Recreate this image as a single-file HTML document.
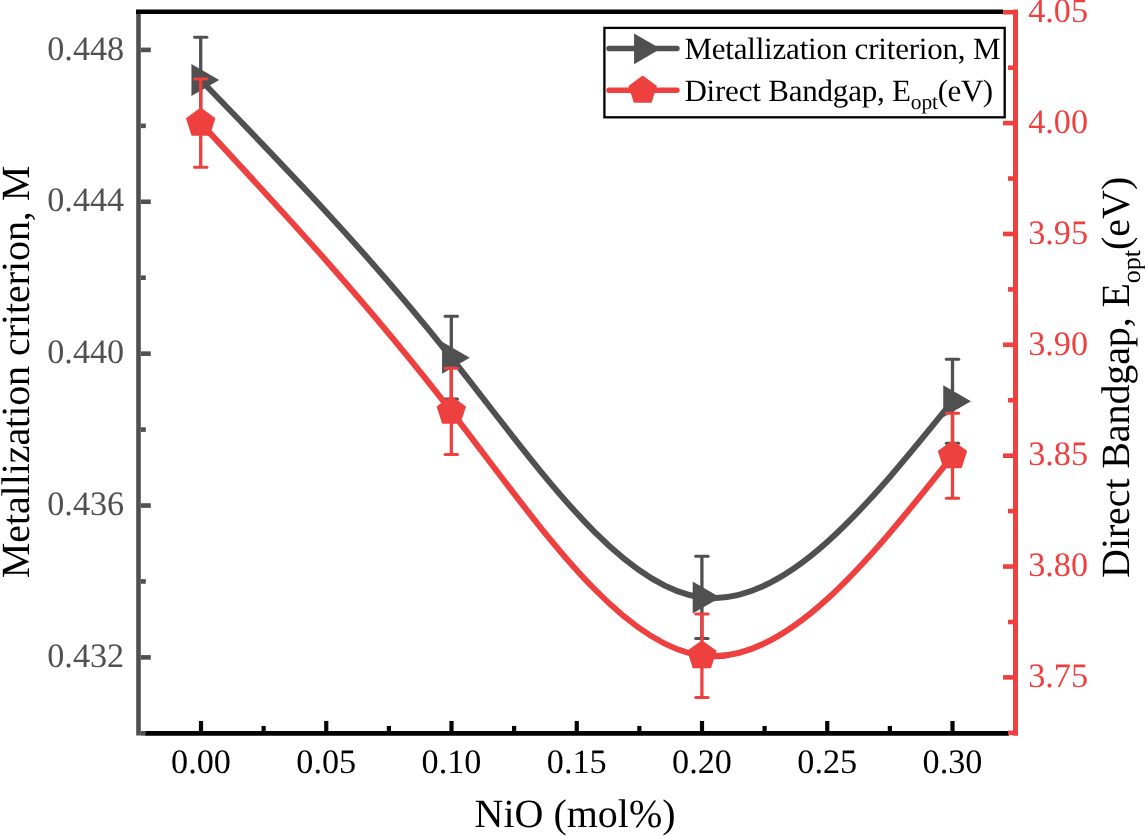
<!DOCTYPE html>
<html><head><meta charset="utf-8"><style>
html,body{margin:0;padding:0;background:#fff;width:1145px;height:836px;overflow:hidden}
svg{display:block;will-change:transform}
text{font-family:"Liberation Serif",serif;text-rendering:geometricPrecision}
.tk{font-size:34.2px}
.ti{font-size:40px;fill:#000}
.lg{font-size:31px;letter-spacing:-0.2px;fill:#000}
</style></head><body>
<svg width="1145" height="836" viewBox="0 0 1145 836">
<rect width="1145" height="836" fill="#fff"/>
<path d="M200.70,80.00 C284.23,166.22 367.77,252.45 451.30,357.65 C534.83,462.85 618.37,587.03 701.90,597.45 C785.43,607.87 868.97,504.54 952.50,401.20" fill="none" stroke="#505050" stroke-width="6"/>
<line x1="200.70" y1="37.30" x2="200.70" y2="122.70" stroke="#505050" stroke-width="3.3"/><line x1="194.50" y1="37.30" x2="206.90" y2="37.30" stroke="#505050" stroke-width="3" stroke-linecap="round"/><line x1="194.50" y1="122.70" x2="206.90" y2="122.70" stroke="#505050" stroke-width="3" stroke-linecap="round"/>
<line x1="451.30" y1="316.20" x2="451.30" y2="399.10" stroke="#505050" stroke-width="3.3"/><line x1="445.10" y1="316.20" x2="457.50" y2="316.20" stroke="#505050" stroke-width="3" stroke-linecap="round"/><line x1="445.10" y1="399.10" x2="457.50" y2="399.10" stroke="#505050" stroke-width="3" stroke-linecap="round"/>
<line x1="701.90" y1="556.30" x2="701.90" y2="638.60" stroke="#505050" stroke-width="3.3"/><line x1="695.70" y1="556.30" x2="708.10" y2="556.30" stroke="#505050" stroke-width="3" stroke-linecap="round"/><line x1="695.70" y1="638.60" x2="708.10" y2="638.60" stroke="#505050" stroke-width="3" stroke-linecap="round"/>
<line x1="952.50" y1="359.20" x2="952.50" y2="443.20" stroke="#505050" stroke-width="3.3"/><line x1="946.30" y1="359.20" x2="958.70" y2="359.20" stroke="#505050" stroke-width="3" stroke-linecap="round"/><line x1="946.30" y1="443.20" x2="958.70" y2="443.20" stroke="#505050" stroke-width="3" stroke-linecap="round"/>
<polygon points="191.46,64.00 219.18,80.00 191.46,96.00" fill="#505050"/>
<polygon points="442.06,341.65 469.78,357.65 442.06,373.65" fill="#505050"/>
<polygon points="692.66,581.45 720.38,597.45 692.66,613.45" fill="#505050"/>
<polygon points="943.26,385.20 970.98,401.20 943.26,417.20" fill="#505050"/>
<path d="M200.70,123.10 C284.23,213.19 367.77,303.29 451.30,411.30 C534.83,519.31 618.37,645.25 701.90,655.65 C785.43,666.05 868.97,560.93 952.50,455.80" fill="none" stroke="#ef4040" stroke-width="6"/>
<line x1="200.70" y1="79.00" x2="200.70" y2="167.20" stroke="#ef4040" stroke-width="3.3"/><line x1="194.50" y1="79.00" x2="206.90" y2="79.00" stroke="#ef4040" stroke-width="3" stroke-linecap="round"/><line x1="194.50" y1="167.20" x2="206.90" y2="167.20" stroke="#ef4040" stroke-width="3" stroke-linecap="round"/>
<line x1="451.30" y1="368.20" x2="451.30" y2="454.40" stroke="#ef4040" stroke-width="3.3"/><line x1="445.10" y1="368.20" x2="457.50" y2="368.20" stroke="#ef4040" stroke-width="3" stroke-linecap="round"/><line x1="445.10" y1="454.40" x2="457.50" y2="454.40" stroke="#ef4040" stroke-width="3" stroke-linecap="round"/>
<line x1="701.90" y1="613.90" x2="701.90" y2="697.40" stroke="#ef4040" stroke-width="3.3"/><line x1="695.70" y1="613.90" x2="708.10" y2="613.90" stroke="#ef4040" stroke-width="3" stroke-linecap="round"/><line x1="695.70" y1="697.40" x2="708.10" y2="697.40" stroke="#ef4040" stroke-width="3" stroke-linecap="round"/>
<line x1="952.50" y1="413.30" x2="952.50" y2="498.30" stroke="#ef4040" stroke-width="3.3"/><line x1="946.30" y1="413.30" x2="958.70" y2="413.30" stroke="#ef4040" stroke-width="3" stroke-linecap="round"/><line x1="946.30" y1="498.30" x2="958.70" y2="498.30" stroke="#ef4040" stroke-width="3" stroke-linecap="round"/>
<polygon points="200.70,107.60 215.44,118.31 209.81,135.64 191.59,135.64 185.96,118.31" fill="#ef4040"/>
<polygon points="451.30,395.80 466.04,406.51 460.41,423.84 442.19,423.84 436.56,406.51" fill="#ef4040"/>
<polygon points="701.90,640.15 716.64,650.86 711.01,668.19 692.79,668.19 687.16,650.86" fill="#ef4040"/>
<polygon points="952.50,440.30 967.24,451.01 961.61,468.34 943.39,468.34 937.76,451.01" fill="#ef4040"/>
<line x1="138.5" y1="11.7" x2="138.5" y2="735.5999999999999" stroke="#505050" stroke-width="4.6"/>
<line x1="1015.5" y1="9.399999999999999" x2="1015.5" y2="735.8" stroke="#ef4040" stroke-width="5"/>
<line x1="136.0" y1="11.7" x2="1003" y2="11.7" stroke="#000" stroke-width="4.6"/>
<line x1="145" y1="733.3" x2="1009" y2="733.3" stroke="#000" stroke-width="4.7"/>
<line x1="140.80" y1="733.34" x2="145.80" y2="733.34" stroke="#505050" stroke-width="4.6"/>
<line x1="140.80" y1="657.40" x2="150.80" y2="657.40" stroke="#505050" stroke-width="4.6"/>
<line x1="140.80" y1="581.46" x2="145.80" y2="581.46" stroke="#505050" stroke-width="4.6"/>
<line x1="140.80" y1="505.52" x2="150.80" y2="505.52" stroke="#505050" stroke-width="4.6"/>
<line x1="140.80" y1="429.59" x2="145.80" y2="429.59" stroke="#505050" stroke-width="4.6"/>
<line x1="140.80" y1="353.65" x2="150.80" y2="353.65" stroke="#505050" stroke-width="4.6"/>
<line x1="140.80" y1="277.71" x2="145.80" y2="277.71" stroke="#505050" stroke-width="4.6"/>
<line x1="140.80" y1="201.77" x2="150.80" y2="201.77" stroke="#505050" stroke-width="4.6"/>
<line x1="140.80" y1="125.84" x2="145.80" y2="125.84" stroke="#505050" stroke-width="4.6"/>
<line x1="140.80" y1="49.90" x2="150.80" y2="49.90" stroke="#505050" stroke-width="4.6"/>
<text x="124.2" y="667.10" text-anchor="end" fill="#505050" class="tk">0.432</text>
<text x="124.2" y="515.22" text-anchor="end" fill="#505050" class="tk">0.436</text>
<text x="124.2" y="363.35" text-anchor="end" fill="#505050" class="tk">0.440</text>
<text x="124.2" y="211.47" text-anchor="end" fill="#505050" class="tk">0.444</text>
<text x="124.2" y="59.60" text-anchor="end" fill="#505050" class="tk">0.448</text>
<line x1="1013.00" y1="732.83" x2="1008.00" y2="732.83" stroke="#ef4040" stroke-width="4.6"/>
<line x1="1013.00" y1="677.40" x2="1003.00" y2="677.40" stroke="#ef4040" stroke-width="4.6"/>
<line x1="1013.00" y1="621.97" x2="1008.00" y2="621.97" stroke="#ef4040" stroke-width="4.6"/>
<line x1="1013.00" y1="566.54" x2="1003.00" y2="566.54" stroke="#ef4040" stroke-width="4.6"/>
<line x1="1013.00" y1="511.11" x2="1008.00" y2="511.11" stroke="#ef4040" stroke-width="4.6"/>
<line x1="1013.00" y1="455.68" x2="1003.00" y2="455.68" stroke="#ef4040" stroke-width="4.6"/>
<line x1="1013.00" y1="400.25" x2="1008.00" y2="400.25" stroke="#ef4040" stroke-width="4.6"/>
<line x1="1013.00" y1="344.82" x2="1003.00" y2="344.82" stroke="#ef4040" stroke-width="4.6"/>
<line x1="1013.00" y1="289.39" x2="1008.00" y2="289.39" stroke="#ef4040" stroke-width="4.6"/>
<line x1="1013.00" y1="233.96" x2="1003.00" y2="233.96" stroke="#ef4040" stroke-width="4.6"/>
<line x1="1013.00" y1="178.53" x2="1008.00" y2="178.53" stroke="#ef4040" stroke-width="4.6"/>
<line x1="1013.00" y1="123.10" x2="1003.00" y2="123.10" stroke="#ef4040" stroke-width="4.6"/>
<line x1="1013.00" y1="67.67" x2="1008.00" y2="67.67" stroke="#ef4040" stroke-width="4.6"/>
<line x1="1013.00" y1="12.24" x2="1003.00" y2="12.24" stroke="#ef4040" stroke-width="4.6"/>
<text x="1028.2" y="22.04" fill="#ef4040" class="tk">4.05</text>
<text x="1028.2" y="132.90" fill="#ef4040" class="tk">4.00</text>
<text x="1028.2" y="243.76" fill="#ef4040" class="tk">3.95</text>
<text x="1028.2" y="354.62" fill="#ef4040" class="tk">3.90</text>
<text x="1028.2" y="465.48" fill="#ef4040" class="tk">3.85</text>
<text x="1028.2" y="576.34" fill="#ef4040" class="tk">3.80</text>
<text x="1028.2" y="687.20" fill="#ef4040" class="tk">3.75</text>
<line x1="201.00" y1="730.95" x2="201.00" y2="720.95" stroke="#000" stroke-width="4.2"/>
<line x1="263.62" y1="730.95" x2="263.62" y2="725.95" stroke="#000" stroke-width="4.2"/>
<line x1="326.25" y1="730.95" x2="326.25" y2="720.95" stroke="#000" stroke-width="4.2"/>
<line x1="388.88" y1="730.95" x2="388.88" y2="725.95" stroke="#000" stroke-width="4.2"/>
<line x1="451.50" y1="730.95" x2="451.50" y2="720.95" stroke="#000" stroke-width="4.2"/>
<line x1="514.12" y1="730.95" x2="514.12" y2="725.95" stroke="#000" stroke-width="4.2"/>
<line x1="576.75" y1="730.95" x2="576.75" y2="720.95" stroke="#000" stroke-width="4.2"/>
<line x1="639.38" y1="730.95" x2="639.38" y2="725.95" stroke="#000" stroke-width="4.2"/>
<line x1="702.00" y1="730.95" x2="702.00" y2="720.95" stroke="#000" stroke-width="4.2"/>
<line x1="764.62" y1="730.95" x2="764.62" y2="725.95" stroke="#000" stroke-width="4.2"/>
<line x1="827.25" y1="730.95" x2="827.25" y2="720.95" stroke="#000" stroke-width="4.2"/>
<line x1="889.88" y1="730.95" x2="889.88" y2="725.95" stroke="#000" stroke-width="4.2"/>
<line x1="952.50" y1="730.95" x2="952.50" y2="720.95" stroke="#000" stroke-width="4.2"/>
<text x="201.00" y="773" text-anchor="middle" fill="#000" class="tk">0.00</text>
<text x="326.25" y="773" text-anchor="middle" fill="#000" class="tk">0.05</text>
<text x="451.50" y="773" text-anchor="middle" fill="#000" class="tk">0.10</text>
<text x="576.75" y="773" text-anchor="middle" fill="#000" class="tk">0.15</text>
<text x="702.00" y="773" text-anchor="middle" fill="#000" class="tk">0.20</text>
<text x="827.25" y="773" text-anchor="middle" fill="#000" class="tk">0.25</text>
<text x="952.50" y="773" text-anchor="middle" fill="#000" class="tk">0.30</text>
<text x="474.5" y="826.9" class="ti">NiO (mol%)</text>
<text transform="translate(28.5,372.05) rotate(-90)" x="0" y="0" text-anchor="middle" class="ti" letter-spacing="-0.07">Metallization criterion, M</text>
<text transform="translate(1128.6,577.9) rotate(-90)" x="0" y="0" class="ti"><tspan letter-spacing="-0.11">Direct Bandgap, E</tspan><tspan font-size="26" dy="11.5">opt</tspan><tspan dy="-11.5">(eV)</tspan></text>
<rect x="604.4" y="27.9" width="400.3" height="89.4" fill="none" stroke="#000" stroke-width="2.3"/>
<line x1="609" y1="48.5" x2="677" y2="48.5" stroke="#505050" stroke-width="5.4" stroke-linecap="round"/>
<polygon points="634.04,33.45 660.62,48.80 634.04,64.15" fill="#505050"/>
<line x1="609" y1="90.3" x2="677" y2="90.3" stroke="#ef4040" stroke-width="5.4" stroke-linecap="round"/>
<polygon points="642.70,75.60 656.97,85.96 651.52,102.74 633.88,102.74 628.43,85.96" fill="#ef4040"/>
<text x="684.4" y="58.7" class="lg">Metallization criterion, M</text>
<text x="684.4" y="100.7" class="lg">Direct Bandgap, E<tspan font-size="21.5" dy="7.8">opt</tspan><tspan dy="-7.8" letter-spacing="-0.45">(eV)</tspan></text>
</svg>
</body></html>
